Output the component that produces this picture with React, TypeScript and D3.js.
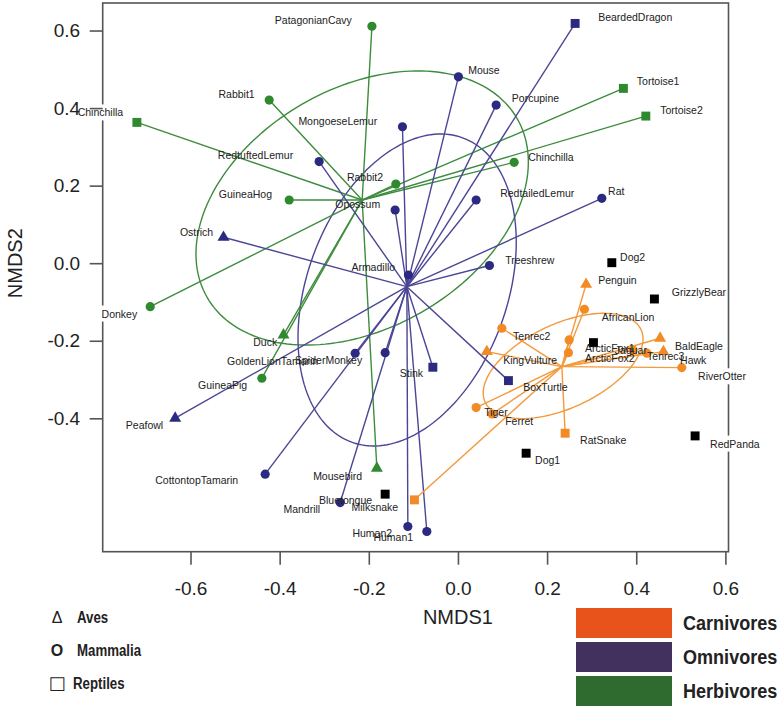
import React, { useEffect, useRef } from 'react';
import * as d3 from 'd3';

// [name, NMDS1, NMDS2, shape, label side, label x, label y]
type Site = [string, number, number, string, string, number, number];

const herbivores: Site[] = [
  ['PatagonianCavy', -0.193, 0.611, 'circle', 'l', -0.238, 0.627],
  ['Rabbit1', -0.4235, 0.4206, 'circle', 'l', -0.456, 0.436],
  ['Chinchilla', -0.7203, 0.3631, 'square', 'l', -0.751, 0.388],
  ['GuineaHog', -0.3786, 0.1629, 'circle', 'l', -0.4172, 0.1784],
  ['Rabbit2', -0.1393, 0.2041, 'circle', 'l', -0.1678, 0.2222],
  ['Chinchilla', 0.1261, 0.2601, 'circle', 'r', 0.1575, 0.2724],
  ['Tortoise1', 0.3712, 0.4508, 'square', 'r', 0.4013, 0.4678],
  ['Tortoise2', 0.4215, 0.3794, 'square', 'r', 0.4536, 0.3948],
  ['Donkey', -0.6904, -0.1121, 'circle', 'l', -0.7196, -0.1307],
  ['Duck', -0.3914, -0.1851, 'triangle', 'l', -0.4056, -0.2049],
  ['GuineaPig', -0.4399, -0.2966, 'circle', 'l', -0.4729, -0.3139],
  ['Mousebird', -0.1819, -0.5286, 'triangle', 'l', -0.2149, -0.5485],
];

const omnivores: Site[] = [
  ['BeardedDragon', 0.2629, 0.6183, 'square', 'r', 0.3145, 0.6338],
  ['Mouse', 0.0011, 0.4807, 'circle', 'r', 0.0229, 0.4961],
  ['Porcupine', 0.0857, 0.4077, 'circle', 'r', 0.1209, 0.425],
  ['MongoeseLemur', -0.1245, 0.3518, 'circle', 'l', -0.1812, 0.3665],
  ['RedtuftedLemur', -0.3114, 0.2621, 'circle', 'l', -0.3697, 0.2789],
  ['Opossum', -0.1409, 0.1371, 'circle', 'l', -0.1745, 0.1526],
  ['RedtailedLemur', 0.0408, 0.1629, 'circle', 'r', 0.0947, 0.1809],
  ['Rat', 0.3228, 0.1673, 'circle', 'r', 0.3369, 0.1843],
  ['Ostrich', -0.526, 0.0668, 'triangle', 'l', -0.5491, 0.0786],
  ['Armadillo', -0.111, -0.0304, 'circle', 'l', -0.1409, -0.0106],
  ['Treeshrew', 0.0707, -0.0059, 'circle', 'r', 0.1059, 0.007],
  ['GoldenLionTamarin', -0.2306, -0.2322, 'circle', 'l', -0.3136, -0.2521],
  ['SpiderMonkey', -0.1633, -0.2307, 'circle', 'l', -0.2149, -0.2495],
  ['Stink', -0.0563, -0.2683, 'square', 'l', -0.0781, -0.283],
  ['BoxTurtle', 0.1133, -0.3028, 'square', 'r', 0.1463, -0.3209],
  ['Peafowl', -0.6344, -0.3997, 'triangle', 'l', -0.6613, -0.4188],
  ['CottontopTamarin', -0.4325, -0.5441, 'circle', 'l', -0.4931, -0.5606],
  ['Mandrill', -0.2642, -0.6173, 'circle', 'l', -0.3091, -0.6335],
  ['Human2', -0.1124, -0.6791, 'circle', 'l', -0.1476, -0.6954],
  ['Human1', -0.0698, -0.692, 'circle', 'l', -0.1005, -0.7082],
];

const carnivores: Site[] = [
  ['Penguin', 0.2876, -0.0544, 'triangle', 'r', 0.3145, -0.0433],
  ['AfricanLion', 0.2838, -0.1188, 'circle', 'r', 0.3228, -0.1394],
  ['Tenrec2', 0.0985, -0.1678, 'circle', 'r', 0.1238, -0.1876],
  ['KingVulture', 0.0648, -0.2281, 'triangle', 'r', 0.1014, -0.2495],
  ['ArcticFox1', 0.2494, -0.1979, 'circle', 'r', 0.2853, -0.2186],
  ['ArcticFox2', 0.2479, -0.2307, 'circle', 'r', 0.2853, -0.2451],
  ['Jaguar', 0.393, -0.2237, 'circle', 'r', 0.352, -0.2237],
  ['Tenrec3', 0.424, -0.232, 'circle', 'r', 0.4244, -0.2392],
  ['BaldEagle', 0.4536, -0.1936, 'triangle', 'r', 0.4872, -0.2134],
  ['Hawk', 0.461, -0.2281, 'triangle', 'r', 0.4984, -0.2495],
  ['RiverOtter', 0.5022, -0.2693, 'circle', 'r', 0.5388, -0.2925],
  ['Tiger', 0.0408, -0.3724, 'circle', 'r', 0.0588, -0.3835],
  ['Ferret', 0.0767, -0.3887, 'circle', 'r', 0.1059, -0.4085],
  ['RatSnake', 0.2405, -0.4384, 'square', 'r', 0.2741, -0.4575],
  ['Milksnake', -0.0976, -0.6103, 'square', 'l', -0.1341, -0.6302],
];

const unassigned: Site[] = [
  ['Dog2', 0.3452, 0.0013, 'square', 'r', 0.3638, 0.016],
  ['GrizzlyBear', 0.4408, -0.0923, 'square', 'r', 0.4798, -0.075],
  ['', 0.304, -0.2049, 'square', 'r', 0.32, -0.2049],
  ['RedPanda', 0.5321, -0.4454, 'square', 'r', 0.5657, -0.466],
  ['Dog1', 0.153, -0.49, 'square', 'r', 0.1731, -0.509],
  ['Bluetongue', -0.1633, -0.5956, 'square', 'l', -0.1925, -0.6103],
];

// group centroids (spider centres)
const centroids: Record<string, [number, number]> = {
  Herbivores: [-0.2149, 0.1629],
  Omnivores: [-0.1146, -0.0606],
  Carnivores: [0.2331, -0.2668],
};

// ellipses: centre, first semi-axis vector, second semi-axis vector (data units)
const ellipses: Array<[string, [number, number], [number, number], [number, number]]> = [
  ['Herbivores', [-0.2149, 0.1423], [0.3477, 0.2307], [0.1346, -0.2678]],
  ['Omnivores', [-0.114, -0.0691], [0.1243, 0.3925], [0.2109, -0.0881]],
  ['Carnivores', [0.236, -0.265], [0.1747, 0.0938], [0.0399, -0.0982]],
];

const xTicks = [-0.6, -0.4, -0.2, 0.0, 0.2, 0.4, 0.6];
const yTicks = [-0.4, -0.2, 0.0, 0.2, 0.4, 0.6];

const classLegend = [
  ['\u0394', 'Aves'],
  ['O', 'Mammalia'],
  ['\u25A1', 'Reptiles'],
];
const dietLegend = ['Carnivores', 'Omnivores', 'Herbivores'];

const pointColor: Record<string, string> = {
  Herbivores: '#2f8a2f',
  Omnivores: '#2c2a80',
  Carnivores: '#f28a26',
  Other: '#000000',
};
const lineColor: Record<string, string> = {
  Herbivores: '#3d8c3d',
  Omnivores: '#4b4694',
  Carnivores: '#f39a3c',
};
const legendColor: Record<string, string> = {
  Carnivores: '#e8531c',
  Omnivores: '#42305e',
  Herbivores: '#2f6a2f',
};

const App: React.FC = () => {
  const svgRef = useRef<SVGSVGElement>(null);

  useEffect(() => {
    if (!svgRef.current) return;
    const width = 781;
    const height = 714;
    const margin = { top: 3, right: 52.5, bottom: 162.3, left: 102.7 };
    const innerW = width - margin.left - margin.right;
    const innerH = height - margin.top - margin.bottom;

    const svg = d3.select(svgRef.current);
    svg.selectAll('*').remove();
    svg.append('rect').attr('width', width).attr('height', height).attr('fill', '#ffffff');

    const x = d3.scaleLinear().domain([-0.797, 0.607]).range([margin.left, margin.left + innerW]);
    const y = d3.scaleLinear().domain([-0.744, 0.671]).range([margin.top + innerH, margin.top]);

    const font = 'Liberation Sans, Arial, Helvetica, sans-serif';

    // frame
    svg.append('rect')
      .attr('x', margin.left)
      .attr('y', margin.top)
      .attr('width', innerW)
      .attr('height', innerH)
      .attr('fill', 'none')
      .attr('stroke', '#555')
      .attr('stroke-width', 1.6);

    // ellipses
    const t = d3.range(0, 2 * Math.PI + 0.001, Math.PI / 90);
    ellipses.forEach(([grp, c, a, b]) => {
      const pts = t.map(s => [
        x(c[0] + a[0] * Math.cos(s) + b[0] * Math.sin(s)),
        y(c[1] + a[1] * Math.cos(s) + b[1] * Math.sin(s)),
      ] as [number, number]);
      svg.append('path')
        .attr('d', d3.line()(pts) + 'Z')
        .attr('fill', 'none')
        .attr('stroke', lineColor[grp])
        .attr('stroke-width', 1.4);
    });

    const groups: Array<[string, Site[]]> = [
      ['Herbivores', herbivores],
      ['Omnivores', omnivores],
      ['Carnivores', carnivores],
    ];

    // spider lines
    groups.forEach(([grp, sites]) => {
      const c = centroids[grp];
      svg.append('g')
        .selectAll('line')
        .data(sites)
        .enter()
        .append('line')
        .attr('x1', x(c[0]))
        .attr('y1', y(c[1]))
        .attr('x2', d => x(d[1]))
        .attr('y2', d => y(d[2]))
        .attr('stroke', lineColor[grp])
        .attr('stroke-width', 1.4);
    });

    const symbolFor = (shape: string) => {
      if (shape === 'square') return d3.symbol().type(d3.symbolSquare).size(80)();
      if (shape === 'triangle') return d3.symbol().type(d3.symbolTriangle).size(62)();
      return d3.symbol().type(d3.symbolCircle).size(66)();
    };

    const allGroups: Array<[string, Site[]]> = [...groups, ['Other', unassigned]];

    // points
    allGroups.forEach(([grp, sites]) => {
      svg.append('g')
        .selectAll('path')
        .data(sites)
        .enter()
        .append('path')
        .attr('transform', d => `translate(${x(d[1])},${y(d[2])})`)
        .attr('d', d => symbolFor(d[3]))
        .attr('fill', pointColor[grp]);
    });

    // site labels (white box only where a label runs over the frame)
    const labelG = svg.append('g');
    const frameL = margin.left;
    const frameR = margin.left + innerW;
    allGroups.forEach(([, sites]) => {
      sites.filter(d => d[0]).forEach(d => {
        const txt = labelG.append('text')
          .attr('x', x(d[5]))
          .attr('y', y(d[6]))
          .attr('dy', '0.35em')
          .attr('text-anchor', d[4] === 'l' ? 'end' : 'start')
          .attr('font-family', font)
          .attr('font-size', 10.5)
          .attr('fill', '#222')
          .text(d[0]);
        const bb = (txt.node() as SVGTextElement).getBBox();
        const crosses = (bb.x < frameL && bb.x + bb.width > frameL) || (bb.x < frameR && bb.x + bb.width > frameR);
        if (crosses) {
          labelG.insert('rect', () => txt.node())
            .attr('x', bb.x - 1)
            .attr('y', bb.y - 2)
            .attr('width', bb.width + 2)
            .attr('height', bb.height + 4)
            .attr('fill', '#ffffff');
        }
      });
    });

    // axes
    const xAxis = svg.append('g')
      .attr('transform', `translate(0,${margin.top + innerH})`)
      .call(d3.axisBottom(x).tickValues(xTicks).tickSize(13).tickFormat(d3.format('.1f')));
    const yAxis = svg.append('g')
      .attr('transform', `translate(${margin.left},0)`)
      .call(d3.axisLeft(y).tickValues(yTicks).tickSize(13).tickFormat(d3.format('.1f')));
    [xAxis, yAxis].forEach(ax => {
      ax.select('.domain').remove();
      ax.selectAll('.tick line').attr('stroke', '#555').attr('stroke-width', 1.6);
      ax.selectAll('.tick text')
        .attr('font-family', font)
        .attr('font-size', 19)
        .attr('fill', '#222')
        .text((d: any) => d3.format('.1f')(d).replace('\u2212', '-'));
    });
    xAxis.selectAll('.tick text').attr('dy', '1.45em');
    yAxis.selectAll('.tick text').attr('x', -22.5);

    svg.append('text')
      .attr('x', x(0))
      .attr('y', 624)
      .attr('text-anchor', 'middle')
      .attr('font-family', font)
      .attr('font-size', 20)
      .attr('fill', '#222')
      .text('NMDS1');
    svg.append('text')
      .attr('transform', `translate(22,${y(0)}) rotate(-90)`)
      .attr('text-anchor', 'middle')
      .attr('font-family', font)
      .attr('font-size', 20)
      .attr('fill', '#222')
      .text('NMDS2');

    // class legend (bottom left)
    classLegend.forEach(([sym, name], i) => {
      const yy = 617 + i * 33;
      svg.append('text')
        .attr('x', 57)
        .attr('y', yy)
        .attr('dy', '0.35em')
        .attr('text-anchor', 'middle')
        .attr('font-family', i === 2 ? 'DejaVu Sans, sans-serif' : font)
        .attr('font-size', i === 2 ? 18 : 16)
        .attr('font-weight', i === 1 ? 'bold' : 'normal')
        .attr('fill', '#222')
        .text(sym);
      svg.append('g')
        .attr('transform', `translate(${i === 2 ? 73 : 77},${yy}) scale(0.78,1)`)
        .append('text')
        .attr('dy', '0.35em')
        .attr('font-family', font)
        .attr('font-size', 17)
        .attr('font-weight', 'bold')
        .attr('fill', '#222')
        .text(name);
    });

    // diet legend (bottom right)
    dietLegend.forEach((name, i) => {
      const yy = 608 + i * 34;
      svg.append('rect')
        .attr('x', 576)
        .attr('y', yy)
        .attr('width', 96)
        .attr('height', 30)
        .attr('fill', legendColor[name]);
      svg.append('g')
        .attr('transform', `translate(683,${yy + 15}) scale(0.86,1)`)
        .append('text')
        .attr('dy', '0.35em')
        .attr('font-family', font)
        .attr('font-size', 21)
        .attr('font-weight', 'bold')
        .attr('fill', '#222')
        .text(name);
    });
  }, []);

  return (
    <svg
      ref={svgRef}
      width={781}
      height={714}
      style={{ position: 'absolute', left: 0, top: 0, display: 'block' }}
    />
  );
};

export default App;
